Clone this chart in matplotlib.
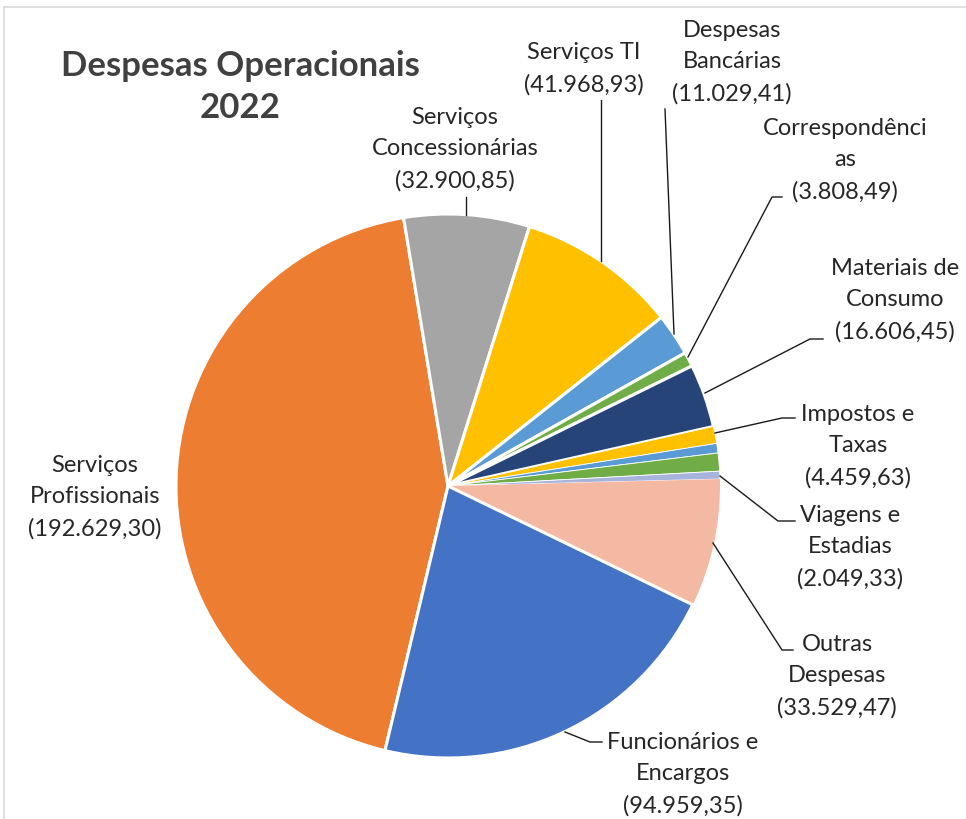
import matplotlib
matplotlib.use("Agg")
import matplotlib.pyplot as plt
from matplotlib.lines import Line2D

# ---- data ----
categories = ["Funcionários e\nEncargos", "Serviços\nProfissionais", "Serviços\nConcessionárias",
              "Serviços TI", "Despesas\nBancárias", "Correspondênci\nas", "Materiais de\nConsumo",
              "Impostos e\nTaxas", "", "", "Viagens e\nEstadias", "Outras\nDespesas"]
values = [94959.35, 192629.30, 32900.85, 41968.93, 11029.41, 3808.49, 16606.45,
          4459.63, 2500.00, 4700.00, 2049.33, 33529.47]
value_labels = ["(94.959,35)", "(192.629,30)", "(32.900,85)", "(41.968,93)", "(11.029,41)",
                "(3.808,49)", "(16.606,45)", "(4.459,63)", "", "", "(2.049,33)", "(33.529,47)"]
colors = ["#4472C4", "#ED7D31", "#A5A5A5", "#FFC000", "#5B9BD5", "#70AD47", "#264478",
          "#FFC000", "#5B9BD5", "#70AD47", "#A9B4DC", "#F4B9A3"]
title = "Despesas Operacionais\n2022"

W, H = 966, 820
fig = plt.figure(figsize=(W / 100, H / 100), dpi=100)
ax = fig.add_axes([0, 0, 1, 1])

def Y(y):
    return H - y

wedges, _ = ax.pie(values, colors=colors, startangle=-25.9, counterclock=False,
                   center=(448, Y(487)), radius=272,
                   wedgeprops=dict(edgecolor="white", linewidth=2.2))
# thin slices have hair-line separators only
for i in (7, 8, 9, 10):
    wedges[i].set_linewidth(0.6)
wedges[11].set_linewidth(0)
wedges[0].set_zorder(wedges[0].get_zorder() + 0.5)

ax.set_xlim(0, W)
ax.set_ylim(0, H)
ax.set_aspect("equal")
ax.set_axis_off()

# chart border (top/left visible)
ax.add_line(Line2D([3.5, 3.5], [Y(8), Y(830)], color="#D9D9D9", lw=1.2))
ax.add_line(Line2D([3.5, 980], [Y(8), Y(8)], color="#D9D9D9", lw=1.2))

# title
ax.text(240, Y(87), title, ha="center", va="center", fontsize=25, fontweight="bold",
        family="Lato", color="#404040", linespacing=1.38)

# label positions (center of text block) and leader lines
label_pos = {
    0: (683, 774), 1: (95, 497), 2: (455, 149), 3: (584, 69), 4: (732, 62),
    5: (845, 160), 6: (895, 300), 7: (858, 446), 10: (850, 547), 11: (837, 676),
}
leaders = {
    0: [(565, 733), (590, 743), (602, 743)],
    2: [(466, 198), (466, 216)],
    3: [(601, 101), (601, 262)],
    4: [(665, 110), (674, 335)],
    5: [(782, 198), (772, 198), (688, 358)],
    6: [(823, 340), (810, 340), (705, 394)],
    7: [(795, 419), (782, 419), (715, 434)],
    10: [(720, 477), (778, 522), (795, 522)],
    11: [(713, 544), (782, 651), (793, 651)],
}
for i, (x, y) in label_pos.items():
    txt = categories[i] + "\n" + value_labels[i]
    ax.text(x, Y(y), txt, ha="center", va="center", fontsize=17, family="Lato",
            color="#262626", linespacing=1.6, multialignment="center")
for i, pts in leaders.items():
    xs = [p[0] for p in pts]
    ys = [Y(p[1]) for p in pts]
    ax.add_line(Line2D(xs, ys, color="#1a1a1a", lw=1.0))

fig.savefig("out.png", dpi=100, facecolor="white")
